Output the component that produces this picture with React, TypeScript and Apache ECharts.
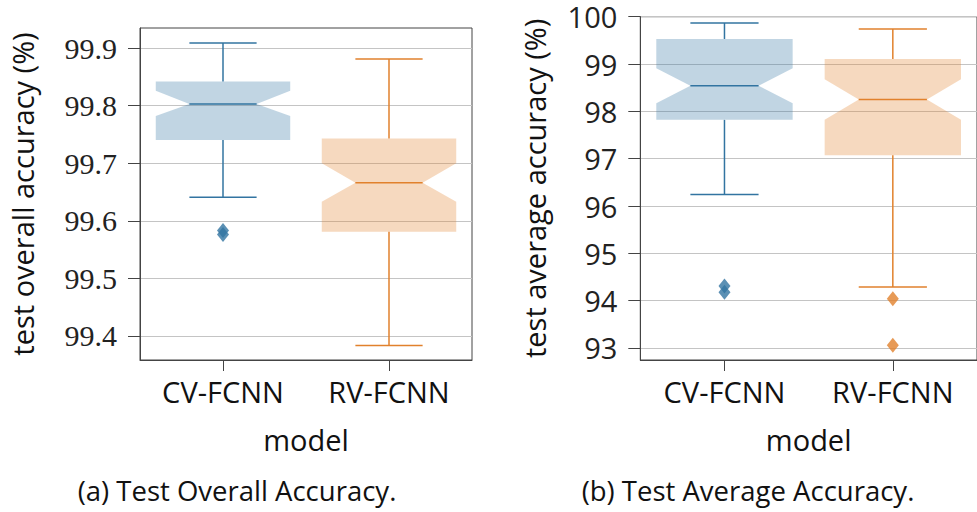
import React, { useEffect, useRef } from "react";
import * as echarts from "echarts";

const models = ["CV-FCNN", "RV-FCNN"];
// [lower whisker, Q1, notch low, median, notch high, Q3, upper whisker]
const overallStats = [
  [99.641, 99.7405, 99.782, 99.803, 99.826, 99.842, 99.909],
  [99.383, 99.581, 99.633, 99.666, 99.7, 99.743, 99.881],
];
const overallOutliers = [[99.583, 99.576], []];
const averageStats = [
  [96.245, 97.82, 98.17, 98.543, 98.91, 99.529, 99.867],
  [94.29, 97.07, 97.82, 98.25, 98.68, 99.106, 99.74],
];
const averageOutliers = [[94.31, 94.18], [94.04, 93.06]];
const overallTicks = [99.4, 99.5, 99.6, 99.7, 99.8, 99.9];
const averageTicks = [93, 94, 95, 96, 97, 98, 99, 100];

const lineColors = ["#3274a1", "#e1812c"];
const fillColors = ["rgba(50,116,161,0.3)", "rgba(225,129,44,0.3)"];
const SPINE = "#444";
const SANS = "Open Sans";

function renderBox(params: any, api: any) {
  const cat = api.value(0);
  const vals = [1, 2, 3, 4, 5, 6, 7].map((i) => api.value(i));
  const pts = vals.map((v) => api.coord([cat, v]));
  const x = pts[0][0];
  const [yLow, yQ1, yNLo, yMed, yNHi, yQ3, yHigh] = pts.map((p: number[]) => p[1]);
  const band = api.size([1, 0])[0];
  const h = band * 0.405;
  const n = h / 2;
  const lc = lineColors[params.dataIndex];
  const fc = fillColors[params.dataIndex];
  const lw = 1.5;
  return {
    type: "group",
    children: [
      {
        type: "polygon",
        shape: {
          points: [
            [x - h, yQ3],
            [x + h, yQ3],
            [x + h, yNHi],
            [x + n, yMed],
            [x + h, yNLo],
            [x + h, yQ1],
            [x - h, yQ1],
            [x - h, yNLo],
            [x - n, yMed],
            [x - h, yNHi],
          ],
        },
        style: { fill: fc, stroke: null },
      },
      { type: "line", shape: { x1: x, y1: yQ3, x2: x, y2: yHigh }, style: { stroke: lc, lineWidth: lw } },
      { type: "line", shape: { x1: x, y1: yQ1, x2: x, y2: yLow }, style: { stroke: lc, lineWidth: lw } },
      { type: "line", shape: { x1: x - n, y1: yHigh, x2: x + n, y2: yHigh }, style: { stroke: lc, lineWidth: lw } },
      { type: "line", shape: { x1: x - n, y1: yLow, x2: x + n, y2: yLow }, style: { stroke: lc, lineWidth: lw } },
      { type: "line", shape: { x1: x - n, y1: yMed, x2: x + n, y2: yMed }, style: { stroke: lc, lineWidth: lw } },
    ],
  };
}

function outlierData(out: number[][]) {
  const res: any[] = [];
  out.forEach((arr, i) =>
    arr.forEach((v) => res.push({ value: [i, v], itemStyle: { color: lineColors[i] } }))
  );
  return res;
}

function xAxisCfg(gridIndex: number) {
  return {
    gridIndex,
    type: "category",
    data: models,
    axisLine: { show: true, lineStyle: { color: SPINE, width: 1 } },
    axisTick: { show: true, alignWithLabel: true, length: 11, lineStyle: { color: SPINE, width: 1 } },
    axisLabel: { fontFamily: SANS, fontSize: 29, color: "#111", margin: 17 },
    splitLine: { show: false },
    name: "model",
    nameLocation: "middle",
    nameGap: 65,
    nameTextStyle: { fontFamily: SANS, fontSize: 29, color: "#111" },
  };
}

function yAxisCfg(gridIndex: number, min: number, max: number, ticks: number[], name: string, serif: boolean, nameGap: number) {
  return {
    gridIndex,
    type: "value",
    min,
    max,
    axisLine: { show: true, lineStyle: { color: SPINE, width: 1 } },
    axisTick: { show: true, length: 12, customValues: ticks, lineStyle: { color: SPINE, width: 1 } },
    axisLabel: {
      customValues: ticks,
      formatter: (v: number) => (serif ? v.toFixed(1) : String(Math.round(v))),
      fontFamily: serif ? "Liberation Serif" : SANS,
      fontSize: serif ? 30 : 29,
      lineHeight: 28,
      color: "#222",
      margin: 23,
    },
    splitLine: { show: true, lineStyle: { color: "#c4c4c4", width: 1 } },
    name,
    nameLocation: "middle",
    nameGap,
    nameTextStyle: { fontFamily: SANS, fontSize: 29, color: "#111" },
  };
}

export default function App() {
  const ref = useRef<HTMLDivElement>(null);
  useEffect(() => {
    if (!ref.current) return;
    const chart = echarts.init(ref.current, undefined, { renderer: "svg" });
    chart.setOption({
      animation: false,
      backgroundColor: "#fff",
      grid: [
        { left: 140, top: 28, width: 332, height: 332, show: true, borderColor: SPINE, borderWidth: 1, backgroundColor: "transparent" },
        { left: 640.3, top: 16.7, width: 342.7, height: 343.3, show: true, borderColor: SPINE, borderWidth: 1, backgroundColor: "transparent" },
      ],
      xAxis: [xAxisCfg(0), xAxisCfg(1)],
      yAxis: [
        yAxisCfg(0, 99.358, 99.935, overallTicks, "test overall accuracy (%)", true, 103),
        yAxisCfg(1, 92.746, 100, averageTicks, "test average accuracy (%)", false, 91),
      ],
      series: [
        {
          type: "custom",
          xAxisIndex: 0,
          yAxisIndex: 0,
          renderItem: renderBox,
          encode: { x: 0, y: [1, 2, 3, 4, 5, 6, 7] },
          data: overallStats.map((s, i) => [i, ...s]),
        },
        {
          type: "custom",
          xAxisIndex: 1,
          yAxisIndex: 1,
          renderItem: renderBox,
          encode: { x: 0, y: [1, 2, 3, 4, 5, 6, 7] },
          data: averageStats.map((s, i) => [i, ...s]),
        },
        {
          type: "scatter",
          xAxisIndex: 0,
          yAxisIndex: 0,
          symbol: "diamond",
          symbolSize: [12, 15],
          data: outlierData(overallOutliers),
        },
        {
          type: "scatter",
          xAxisIndex: 1,
          yAxisIndex: 1,
          symbol: "diamond",
          symbolSize: [12, 15],
          data: outlierData(averageOutliers),
        },
      ],
      graphic: [
        {
          type: "text",
          x: 237,
          y: 490,
          style: { text: "(a) Test Overall Accuracy.", fontFamily: SANS, fontSize: 27.5, fill: "#111", textAlign: "center", textVerticalAlign: "middle" },
        },
        {
          type: "text",
          x: 748,
          y: 490,
          style: { text: "(b) Test Average Accuracy.", fontFamily: SANS, fontSize: 27.5, fill: "#111", textAlign: "center", textVerticalAlign: "middle" },
        },
      ],
    });
    return () => chart.dispose();
  }, []);
  return <div ref={ref} style={{ position: "absolute", left: 0, top: 0, width: 977, height: 512, overflow: "hidden" }} />;
}
